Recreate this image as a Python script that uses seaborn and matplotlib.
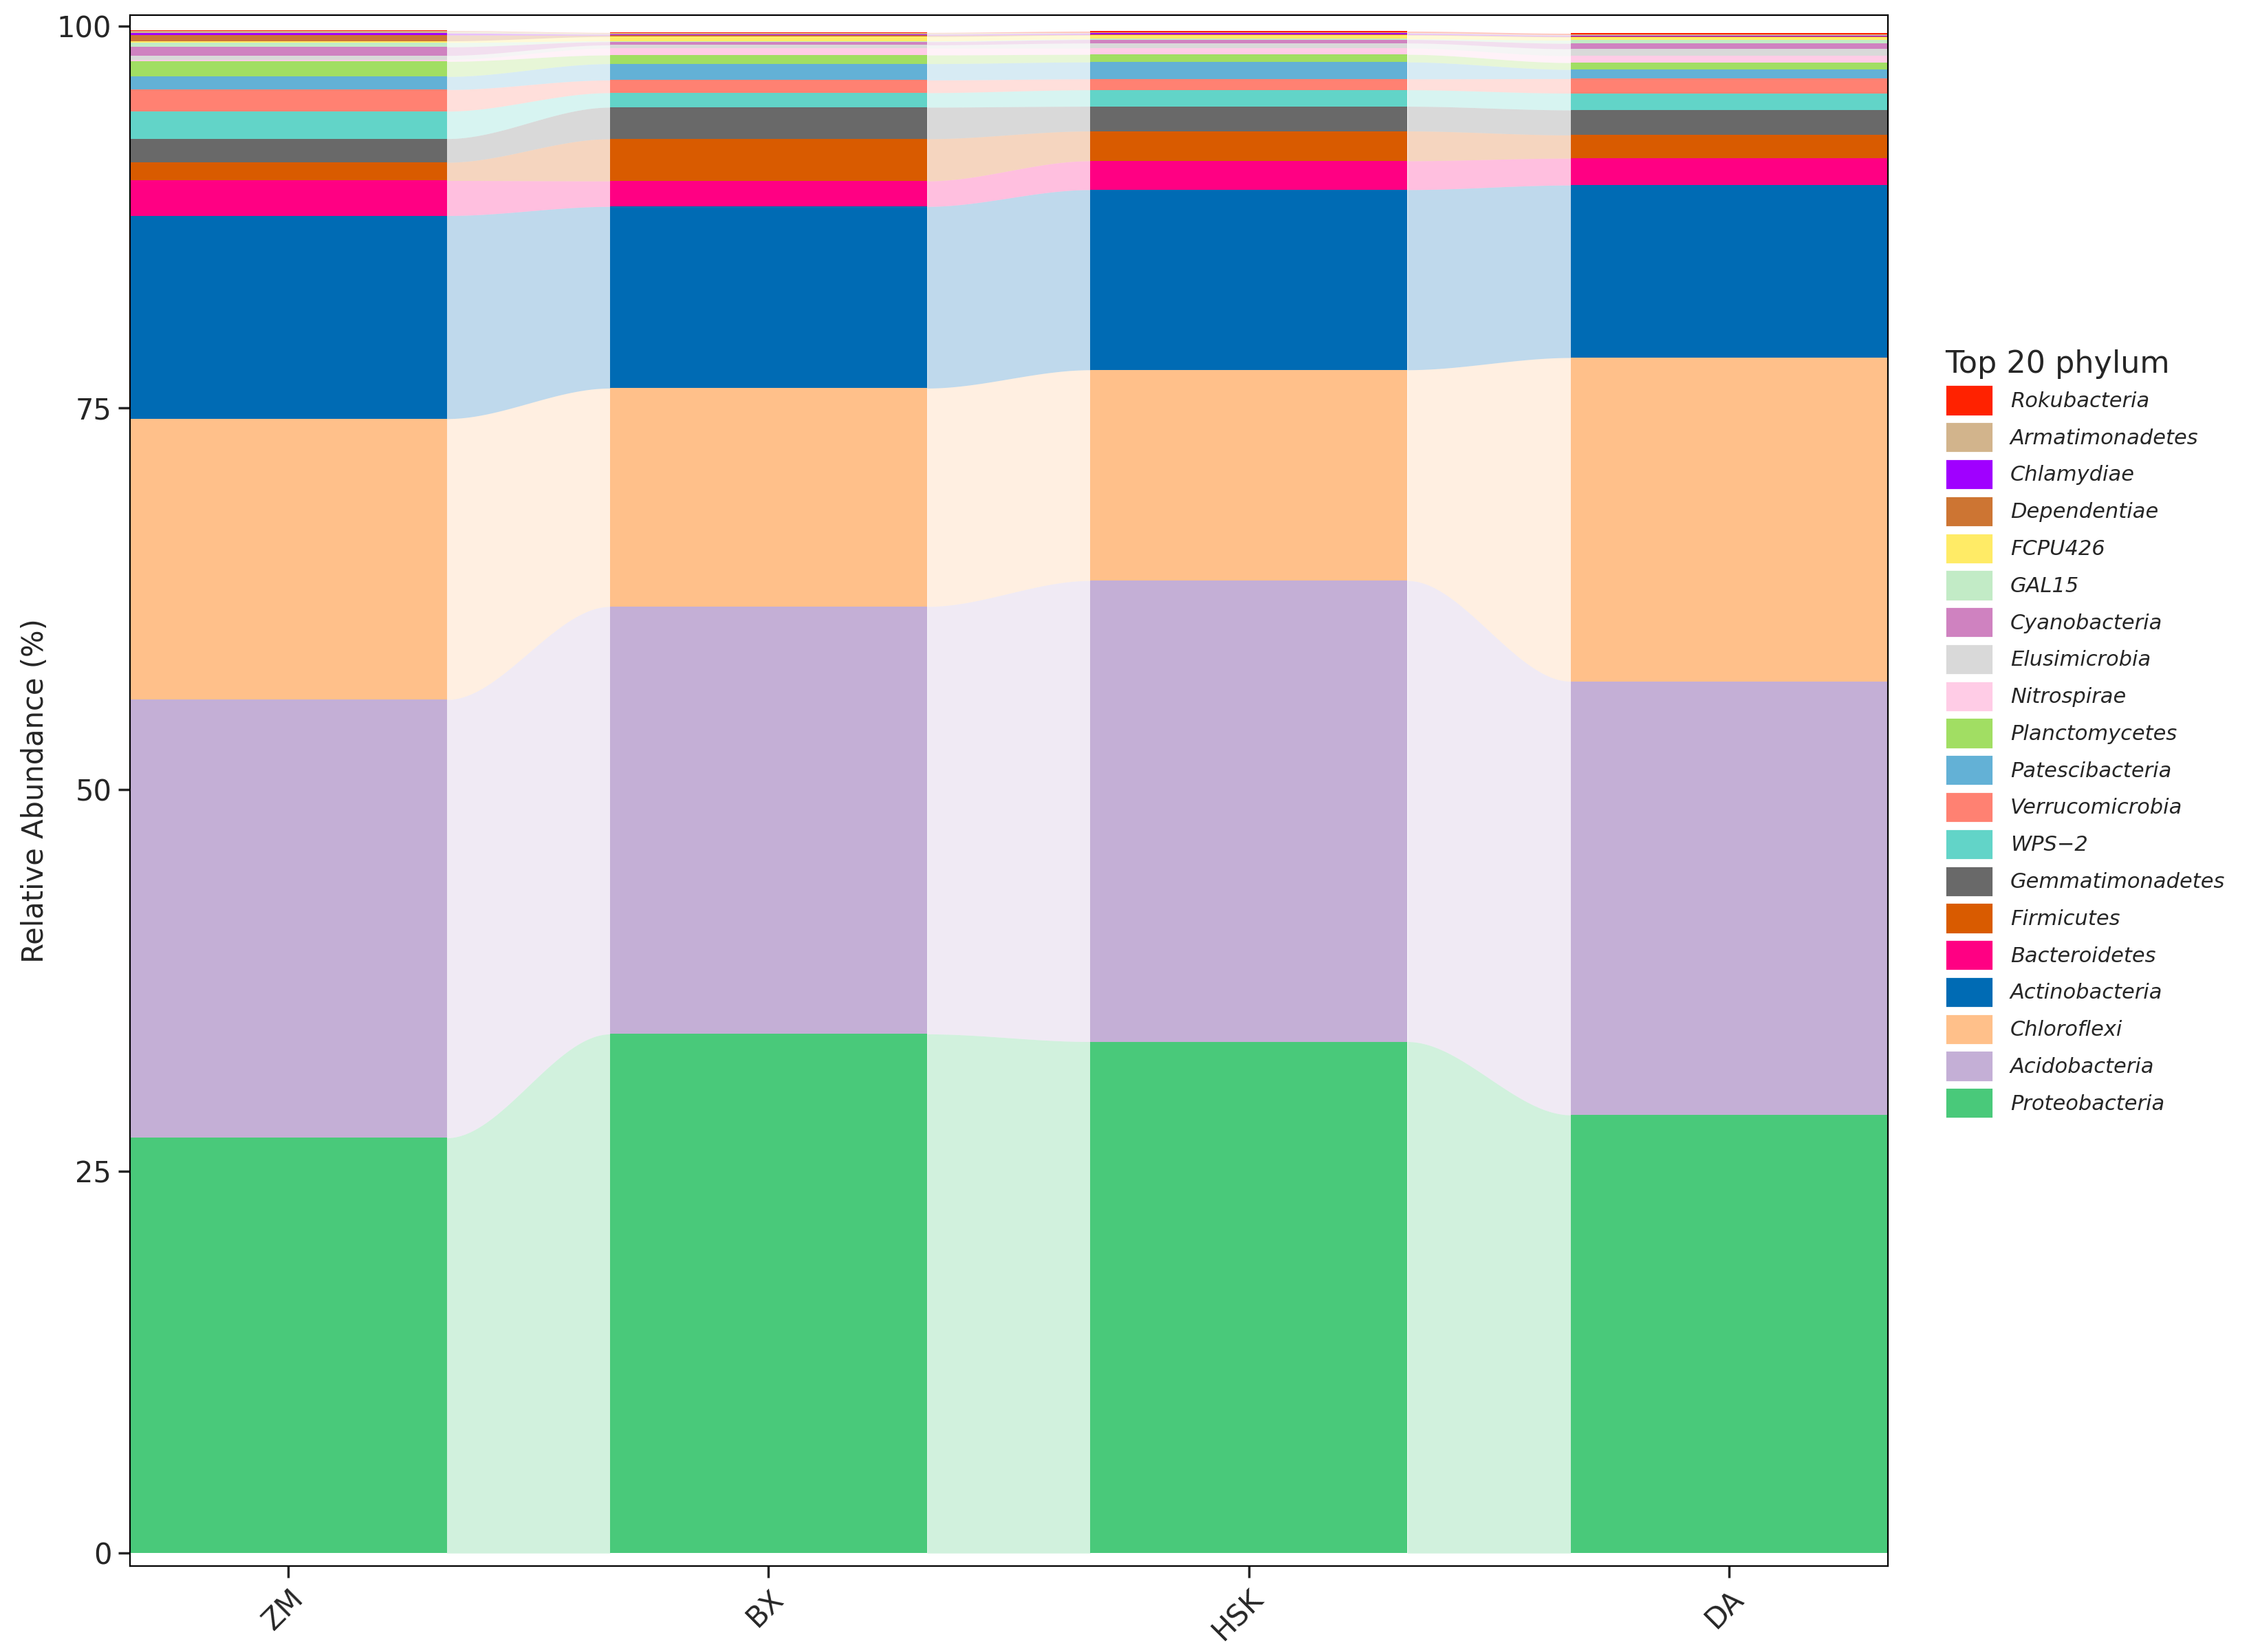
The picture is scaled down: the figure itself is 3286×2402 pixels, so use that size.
import numpy as np
import matplotlib
matplotlib.use("Agg")
import matplotlib.pyplot as plt
import seaborn as sns
from matplotlib.patches import Patch

samples = ["ZM", "BX", "HSK", "DA"]
# bottom to top
phyla = ["Proteobacteria", "Acidobacteria", "Chloroflexi", "Actinobacteria", "Bacteroidetes",
         "Firmicutes", "Gemmatimonadetes", "WPS\u22122", "Verrucomicrobia", "Patescibacteria",
         "Planctomycetes", "Nitrospirae", "Elusimicrobia", "Cyanobacteria", "GAL15", "FCPU426",
         "Dependentiae", "Chlamydiae", "Armatimonadetes", "Rokubacteria"]
ZM = [27.2, 28.7, 18.4, 13.3, 2.30, 1.19, 1.55, 1.80, 1.41, 0.86, 0.99, 0.12, 0.27, 0.56, 0.29, 0.10, 0.39, 0.12, 0.15, 0.02]
BX = [34.0, 28.0, 14.3, 11.9, 1.67, 2.76, 2.07, 0.95, 0.83, 1.07, 0.57, 0.45, 0.21, 0.21, 0.05, 0.29, 0.09, 0.05, 0.10, 0.02]
HSK = [33.5, 30.2, 13.8, 11.8, 1.89, 1.95, 1.62, 1.08, 0.71, 1.11, 0.50, 0.41, 0.33, 0.23, 0.05, 0.24, 0.05, 0.07, 0.05, 0.09]
DA = [28.7, 28.4, 21.2, 11.3, 1.76, 1.52, 1.64, 1.10, 0.95, 0.60, 0.45, 0.45, 0.45, 0.36, 0.21, 0.21, 0.05, 0.05, 0.05, 0.09]
colors = ["#49C97A", "#C4AFD6", "#FFC08A", "#006BB4", "#FF0083", "#D95B00", "#696969", "#62D4C8",
          "#FF8172", "#63B1D6", "#A1DE63", "#FFCCE6", "#D9D9D9", "#CF82C0", "#C2EBC6", "#FFEB66",
          "#CD7533", "#A000FF", "#D2B48C", "#FF2200"]

sns.set_theme(style="ticks")
data = np.array([ZM, BX, HSK, DA])  # samples x phyla
cum = np.cumsum(data, axis=1)
bottoms = cum - data

fig = plt.figure(figsize=(16.435, 12.01), dpi=200)
ax = fig.add_axes([0.0574, 0.052, 0.7776, 0.939])
w = 0.66
x = np.arange(len(samples))
for i, ph in enumerate(phyla):
    ax.bar(x, data[:, i], bottom=bottoms[:, i], width=w, color=colors[i], linewidth=0)
    for j in range(len(samples) - 1):
        xs = np.linspace(j + w / 2, j + 1 - w / 2, 60)
        t = (xs - xs[0]) / (xs[-1] - xs[0])
        s = t * t * (3 - 2 * t)
        lo = bottoms[j, i] + (bottoms[j + 1, i] - bottoms[j, i]) * s
        hi = cum[j, i] + (cum[j + 1, i] - cum[j, i]) * s
        ax.fill_between(xs, lo, hi, color=colors[i], alpha=0.25, linewidth=0)

ax.set_xlim(-0.33, 3.33)
ax.set_ylim(-0.85, 100.75)
ax.set_yticks([0, 25, 50, 75, 100])
ax.set_xticks(x)
ax.set_xticklabels(samples, rotation=45, ha="right", rotation_mode="anchor", fontsize=15)
ax.tick_params(axis="y", labelsize=15)
ax.set_ylabel("Relative Abundance (%)", fontsize=15)
ax.set_xlabel("")
for sp in ax.spines.values():
    sp.set_visible(True)
    sp.set_color("black")
    sp.set_linewidth(0.8)

handles = [Patch(facecolor=colors[i], edgecolor="white", label=phyla[i]) for i in range(len(phyla))][::-1]
leg = fig.legend(handles=handles, loc="upper left", bbox_to_anchor=(0.852, 0.8), frameon=False,
                 title="Top 20 phylum", title_fontsize=16, prop={"style": "italic", "size": 11},
                 handlelength=2.3, handleheight=1.9, labelspacing=0.28, alignment="left")
fig.savefig("out.png", dpi=200)
